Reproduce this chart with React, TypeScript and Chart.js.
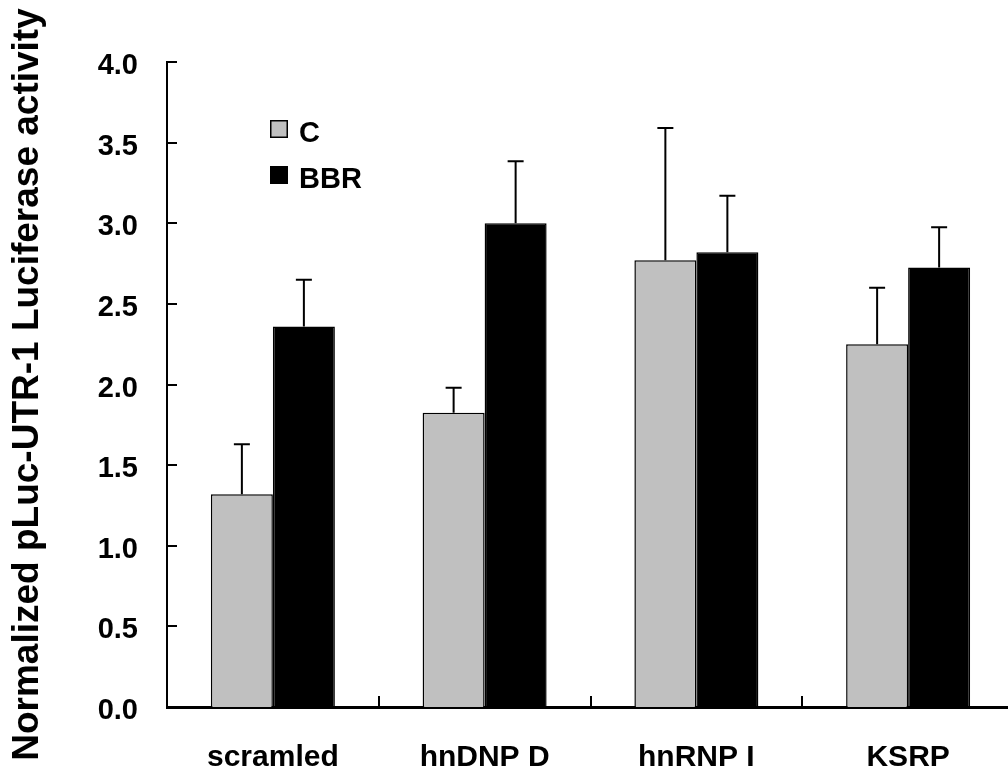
import React, { useEffect, useRef } from "react";
import { Chart, registerables } from "chart.js";

Chart.register(...registerables);

const categories = ["scramled", "hnDNP D", "hnRNP I", "KSRP"];
const seriesLabels = ["C", "BBR"];
const controlValues = [1.32, 1.825, 2.77, 2.25];
const bbrValues = [2.36, 3.0, 2.82, 2.725];
const controlErrors = [0.31, 0.155, 0.82, 0.35];
const bbrErrors = [0.29, 0.385, 0.35, 0.25];
const yTickValues = [0, 0.5, 1.0, 1.5, 2.0, 2.5, 3.0, 3.5, 4.0];
const yTitle = "Normalized pLuc-UTR-1 Luciferase activity";

const FONT = "'Liberation Sans', Arial, Helvetica, sans-serif";

const overlayPlugin = {
  id: "overlayPlugin",
  afterDatasetsDraw(chart: any) {
    const ctx = chart.ctx as CanvasRenderingContext2D;
    const { left, bottom } = chart.chartArea;
    const ys = chart.scales.y;
    const xs = chart.scales.x;
    ctx.save();
    ctx.strokeStyle = "#000";
    ctx.lineWidth = 2;
    // error bars (upper only)
    chart.data.datasets.forEach((ds: any, di: number) => {
      const meta = chart.getDatasetMeta(di);
      meta.data.forEach((bar: any, i: number) => {
        const top = ys.getPixelForValue(ds.data[i] + ds.errors[i]);
        ctx.beginPath();
        ctx.moveTo(bar.x, bar.y);
        ctx.lineTo(bar.x, top);
        ctx.moveTo(bar.x - 8, top);
        ctx.lineTo(bar.x + 8, top);
        ctx.stroke();
      });
    });
    // inward y ticks
    yTickValues.forEach((v) => {
      const py = Math.round(ys.getPixelForValue(v));
      ctx.beginPath();
      ctx.moveTo(left, py);
      ctx.lineTo(left + 10, py);
      ctx.stroke();
    });
    // inward x ticks at category boundaries
    for (let i = 1; i < categories.length; i++) {
      const px = Math.round((xs.getPixelForValue(i - 1) + xs.getPixelForValue(i)) / 2);
      ctx.beginPath();
      ctx.moveTo(px, bottom);
      ctx.lineTo(px, bottom - 11);
      ctx.stroke();
    }
    // legend
    const lx = left + 103;
    const ly = 120;
    chart.data.datasets.forEach((ds: any, di: number) => {
      const y0 = ly + di * 46;
      ctx.fillStyle = ds.backgroundColor;
      ctx.fillRect(lx, y0, 18, 18);
      ctx.lineWidth = 1.5;
      ctx.strokeStyle = "#000";
      ctx.strokeRect(lx + 0.75, y0 + 0.75, 16.5, 16.5);
      ctx.fillStyle = "#000";
      ctx.font = `bold 29px ${FONT}`;
      ctx.textBaseline = "alphabetic";
      ctx.textAlign = "left";
      ctx.fillText(ds.label, lx + 29, y0 + 22);
    });
    ctx.restore();
  },
};

export default function App() {
  const canvasRef = useRef<HTMLCanvasElement | null>(null);

  useEffect(() => {
    if (!canvasRef.current) return;
    const chart = new Chart(canvasRef.current, {
      type: "bar",
      data: {
        labels: categories,
        datasets: [
          {
            label: seriesLabels[0],
            data: controlValues,
            errors: controlErrors,
            backgroundColor: "#c0c0c0",
            borderColor: "#000",
            borderWidth: 1.5,
            categoryPercentage: 0.5856,
            barPercentage: 1.0,
          } as any,
          {
            label: seriesLabels[1],
            data: bbrValues,
            errors: bbrErrors,
            backgroundColor: "#000000",
            borderColor: "#000",
            borderWidth: 1.5,
            categoryPercentage: 0.5856,
            barPercentage: 1.0,
          } as any,
        ],
      },
      options: {
        animation: false,
        responsive: false,
        maintainAspectRatio: false,
        devicePixelRatio: 1,
        layout: { padding: { left: 0, right: 2, top: 62, bottom: 0 } },
        plugins: {
          legend: { display: false },
          tooltip: { enabled: false },
          title: { display: false },
        },
        scales: {
          x: {
            type: "category",
            offset: true,
            grid: { display: false, drawTicks: false },
            border: { display: true, color: "#000", width: 3 },
            ticks: {
              color: "#000",
              font: { family: FONT, size: 30, weight: "bold" },
              padding: 33,
              maxRotation: 0,
              autoSkip: false,
            },
            afterFit: (scale: any) => {
              scale.height = 71;
            },
          },
          y: {
            min: 0,
            max: 4,
            grid: { display: false, drawTicks: false },
            border: { display: true, color: "#000", width: 2 },
            ticks: {
              stepSize: 0.5,
              color: "#000",
              font: { family: FONT, size: 29, weight: "bold" },
              padding: 29,
              labelOffset: 4,
              callback: (v: any) => Number(v).toFixed(1),
            },
            title: {
              display: true,
              text: yTitle,
              color: "#000",
              font: { family: FONT, size: 37, weight: "bold" },
              padding: { top: 6, bottom: 0 },
            },
            afterFit: (scale: any) => {
              scale.width = 167;
            },
          },
        },
      } as any,
      plugins: [overlayPlugin],
    });
    return () => chart.destroy();
  }, []);

  return (
    <div
      style={{
        position: "fixed",
        left: 0,
        top: 0,
        width: 1008,
        height: 778,
        overflow: "hidden",
        background: "#fff",
      }}
    >
      <canvas ref={canvasRef} width={1016} height={778} style={{ display: "block" }} />
    </div>
  );
}
